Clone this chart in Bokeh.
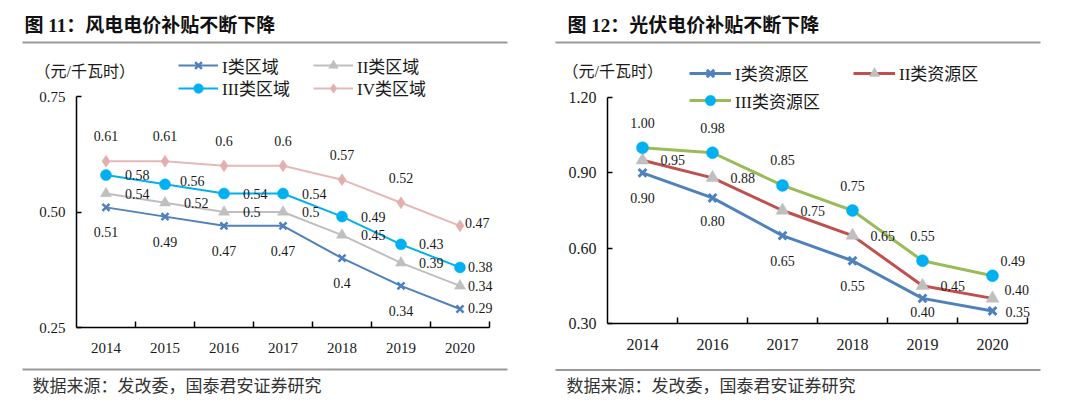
from bokeh.plotting import figure
from bokeh.models import (Range1d, FixedTicker, NumeralTickFormatter, ColumnDataSource,
                          LabelSet, Label, BoxAnnotation, Legend, LegendItem)
from bokeh.layouts import row
from bokeh.core.properties import value
from bokeh.embed import file_html
from bokeh.resources import INLINE

# ---------------- data ----------------
wind_years = ["2014", "2015", "2016", "2017", "2018", "2019", "2020"]
wind_names = ["I类区域", "II类区域", "III类区域", "IV类区域"]
wind_I = [0.51, 0.49, 0.47, 0.47, 0.40, 0.34, 0.29]
wind_II = [0.54, 0.52, 0.50, 0.50, 0.45, 0.39, 0.34]
wind_III = [0.58, 0.56, 0.54, 0.54, 0.49, 0.43, 0.38]
wind_IV = [0.61, 0.61, 0.60, 0.60, 0.57, 0.52, 0.47]
wind_yticks = [0.25, 0.50, 0.75]

pv_years = ["2014", "2016", "2017", "2018", "2019", "2020"]
pv_names = ["I类资源区", "II类资源区", "III类资源区"]
pv_I = [0.90, 0.80, 0.65, 0.55, 0.40, 0.35]
pv_II = [0.95, 0.88, 0.75, 0.65, 0.45, 0.40]
pv_III = [1.00, 0.98, 0.85, 0.75, 0.55, 0.49]
pv_yticks = [0.30, 0.60, 0.90, 1.20]

titles = ["图 11：风电电价补贴不断下降", "图 12：光伏电价补贴不断下降"]
unit_text = "（元/千瓦时）"
source_text = "数据来源：发改委，国泰君安证券研究"

# ---------------- styles ----------------
SERIF = "'Liberation Serif', 'Noto Sans CJK SC', serif"
TXT = "#1a1a1a"
RULE = "#9a9a9a"
H = 400                  # panel canvas height (page y 0..400)

# label placement styles: (mode, dx, dy) per point
wind_lab = [
    (["center"] * 6 + ["left"], [0] * 6 + [8], [-25] * 6 + [1]),
    (["left"] * 7, [19, 19, 19, 19, 19, 18, 8], [0] * 7),
    (["left"] * 7, [19, 15, 19, 19, 19, 18, 8], [0, 3, 0, 0, 0, 0, 0]),
    (["center"] * 6 + ["left"], [0] * 6 + [5], [25] * 6 + [3]),
]
pv_lab = [
    (["center"] * 5 + ["left"], [0, 0, 0, 0, 0, 13], [-25, -23, -25, -25, -14, -1]),
    (["left"] * 6, [18, 18, 18, 18, 18, 12], [0, 0, 0, 0, 0, 8]),
    (["center"] * 5 + ["left"], [0] * 5 + [8], [25] * 5 + [15]),
]


class Panel:
    """A figure whose frame fills the whole canvas; axes are pinned inside."""

    def __init__(self, x0, width, years, yticks, ax_left, ax_right, ax_top, ax_bottom, tick_size):
        # x0: page x of canvas left; ax_*: page pixel box of the axes
        self.x0 = x0
        n = len(years)
        xpx = (ax_right - ax_left) / n
        ypx = (ax_bottom - ax_top) / (yticks[-1] - yticks[0])
        xr = Range1d((x0 - ax_left) / xpx, (x0 + width - ax_left) / xpx)
        yr = Range1d(yticks[0] - (H - ax_bottom) / ypx,
                     yticks[-1] + ax_top / ypx)
        p = figure(width=width, height=H, x_range=xr, y_range=yr,
                   output_backend="svg", toolbar_location=None, min_border=0)
        p.outline_line_color = None
        p.xgrid.visible = False
        p.ygrid.visible = False
        p.background_fill_color = "white"
        p.border_fill_color = "white"
        self.centers = [i + 0.5 for i in range(n)]
        bounds = [float(i + 1) for i in range(n)]

        ax = p.xaxis[0]
        ax.fixed_location = yticks[0]
        ax.bounds = (0, n)
        ax.ticker = FixedTicker(ticks=self.centers, minor_ticks=bounds)
        ax.major_label_overrides = {c: y for c, y in zip(self.centers, years)}
        ax.major_tick_line_color = None
        ax.minor_tick_line_color = "black"
        ax.minor_tick_line_width = 1.5
        ax.minor_tick_in = 6
        ax.minor_tick_out = 0
        ax.axis_line_color = "black"
        ax.axis_line_width = 1.5
        ax.major_label_text_font = SERIF
        ax.major_label_text_font_size = tick_size
        ax.major_label_text_color = TXT
        ax.major_label_standoff = 9

        ay = p.yaxis[0]
        ay.fixed_location = 0
        ay.bounds = (yticks[0], yticks[-1])
        ay.ticker = FixedTicker(ticks=yticks)
        ay.formatter = NumeralTickFormatter(format="0.00")
        ay.major_tick_in = 5
        ay.major_tick_out = 0
        ay.major_tick_line_width = 1.5
        ay.minor_tick_line_color = None
        ay.axis_line_color = "black"
        ay.axis_line_width = 1.5
        ay.major_label_text_font = SERIF
        ay.major_label_text_font_size = tick_size
        ay.major_label_text_color = TXT
        ay.major_label_standoff = 11
        self.p = p

    # page pixel -> screen units (frame == canvas, y up)
    def sx(self, px):
        return px - self.x0

    def sy(self, py):
        return H - py

    def series(self, ys, line_color, line_width, marker, msize, mcolor, mline):
        src = ColumnDataSource(dict(x=self.centers, y=ys))
        lr = self.p.line("x", "y", source=src, line_color=line_color, line_width=line_width)
        if marker == "x":
            sr = self.p.scatter("x", "y", source=src, marker="x", size=msize,
                                line_color=mcolor, line_width=mline)
        else:
            sr = self.p.scatter("x", "y", source=src, marker=marker, size=msize,
                                fill_color=mcolor, line_color=mcolor, line_width=0.5)
        return [lr, sr]

    def labels(self, ys, texts, style):
        modes, dxs, dys = style
        xs = self.centers
        for align in ("center", "left"):
            idx = [i for i, m in enumerate(modes) if m == align]
            if not idx:
                continue
            src = ColumnDataSource(dict(
                x=[xs[i] for i in idx], y=[ys[i] for i in idx],
                t=[texts[i] for i in idx], dx=[dxs[i] for i in idx],
                dy=[dys[i] for i in idx]))
            self.p.add_layout(LabelSet(x="x", y="y", text="t", x_offset="dx", y_offset="dy",
                                       source=src, text_align=align, text_baseline="middle",
                                       text_font=value(SERIF), text_font_size=value("14px"),
                                       text_color=TXT))

    def legend(self, label, rends, gx, gy_center, gw, gh, fsize):
        leg = Legend(items=[LegendItem(label=value(label), renderers=rends)],
                     location=(self.sx(gx), self.sy(gy_center + gh / 2)),
                     orientation="horizontal",
                     glyph_width=gw, glyph_height=gh, label_height=gh,
                     label_standoff=4, padding=0, margin=0, spacing=0,
                     border_line_color=None, background_fill_alpha=0,
                     label_text_font=SERIF, label_text_font_size=fsize,
                     label_text_color=TXT)
        self.p.add_layout(leg)

    def text(self, text, px, py, size, bold=False, color=TXT):
        self.p.add_layout(Label(x=self.sx(px), y=self.sy(py), x_units="screen", y_units="screen",
                                text=text, text_font=SERIF, text_font_size=size,
                                text_font_style="bold" if bold else "normal",
                                text_color=color, text_align="left", text_baseline="middle"))

    def rule(self, px_l, px_r, py_t, py_b):
        self.p.add_layout(BoxAnnotation(left=self.sx(px_l), right=self.sx(px_r),
                                        top=self.sy(py_t), bottom=self.sy(py_b),
                                        left_units="screen", right_units="screen",
                                        top_units="screen", bottom_units="screen",
                                        fill_color=RULE, fill_alpha=1.0, line_color=None))


# ---------------- left panel: wind ----------------
L = Panel(0, 540, wind_years, wind_yticks, 76, 489, 96, 327, "15px")
wind_series = [wind_I, wind_II, wind_III, wind_IV]
wind_style = [
    ("#4f81bd", 2, "x", 10, "#4f81bd", 2.5),
    ("#bfbfbf", 2, "triangle", 11, "#bfbfbf", 0),
    ("#00b0f0", 2, "circle", 11, "#00b0f0", 0),
    ("#e6b9b8", 2, "diamond", 12, "#e2afae", 0),
]
wind_rends = [L.series(ys, *st) for ys, st in zip(wind_series, wind_style)]
for ys, ls in zip(wind_series, wind_lab):
    L.labels(ys, [f"{v:g}" for v in ys], ls)

L.text(titles[0], 24, 25, "19px", bold=True, color="#111111")
L.rule(22, 507, 41, 43)
L.text(unit_text, 34, 71, "16px")
leg_pos_w = [(178, 65.5), (313, 65.5), (178, 88), (313, 88)]
for name, rends, (gx, gy) in zip(wind_names, wind_rends, leg_pos_w):
    L.legend(name, rends, gx, gy, 40, 24, "17px")
L.rule(22, 507, 368, 370)
L.text(source_text, 32, 386, "17px", color="#333333")

# ---------------- right panel: PV ----------------
R = Panel(540, 532, pv_years, pv_yticks, 607, 1027, 97, 323, "16px")
pv_series = [pv_I, pv_II, pv_III]
pv_style = [
    ("#4f81bd", 3, "x", 11, "#4f81bd", 3),
    ("#c0504d", 3, "triangle", 13, "#bfbfbf", 0),
    ("#9bbb59", 3, "circle", 12, "#00b0f0", 0),
]
pv_rends = [R.series(ys, *st) for ys, st in zip(pv_series, pv_style)]
for ys, ls in zip(pv_series, pv_lab):
    R.labels(ys, [f"{v:.2f}" for v in ys], ls)

R.text(titles[1], 567, 25, "19px", bold=True, color="#111111")
R.rule(555, 1040, 41, 43)
R.text(unit_text, 562, 71, "16px")
leg_pos_p = [(689, 72.7), (853, 72.7), (689, 100)]
for name, rends, (gx, gy) in zip(pv_names, pv_rends, leg_pos_p):
    R.legend(name, rends, gx, gy, 42, 26, "17px")
R.rule(555, 1040, 368.5, 370.5)
R.text(source_text, 566, 386, "17px", color="#333333")

layout = row(L.p, R.p)
open("out.html", "w").write(file_html(layout, INLINE))
